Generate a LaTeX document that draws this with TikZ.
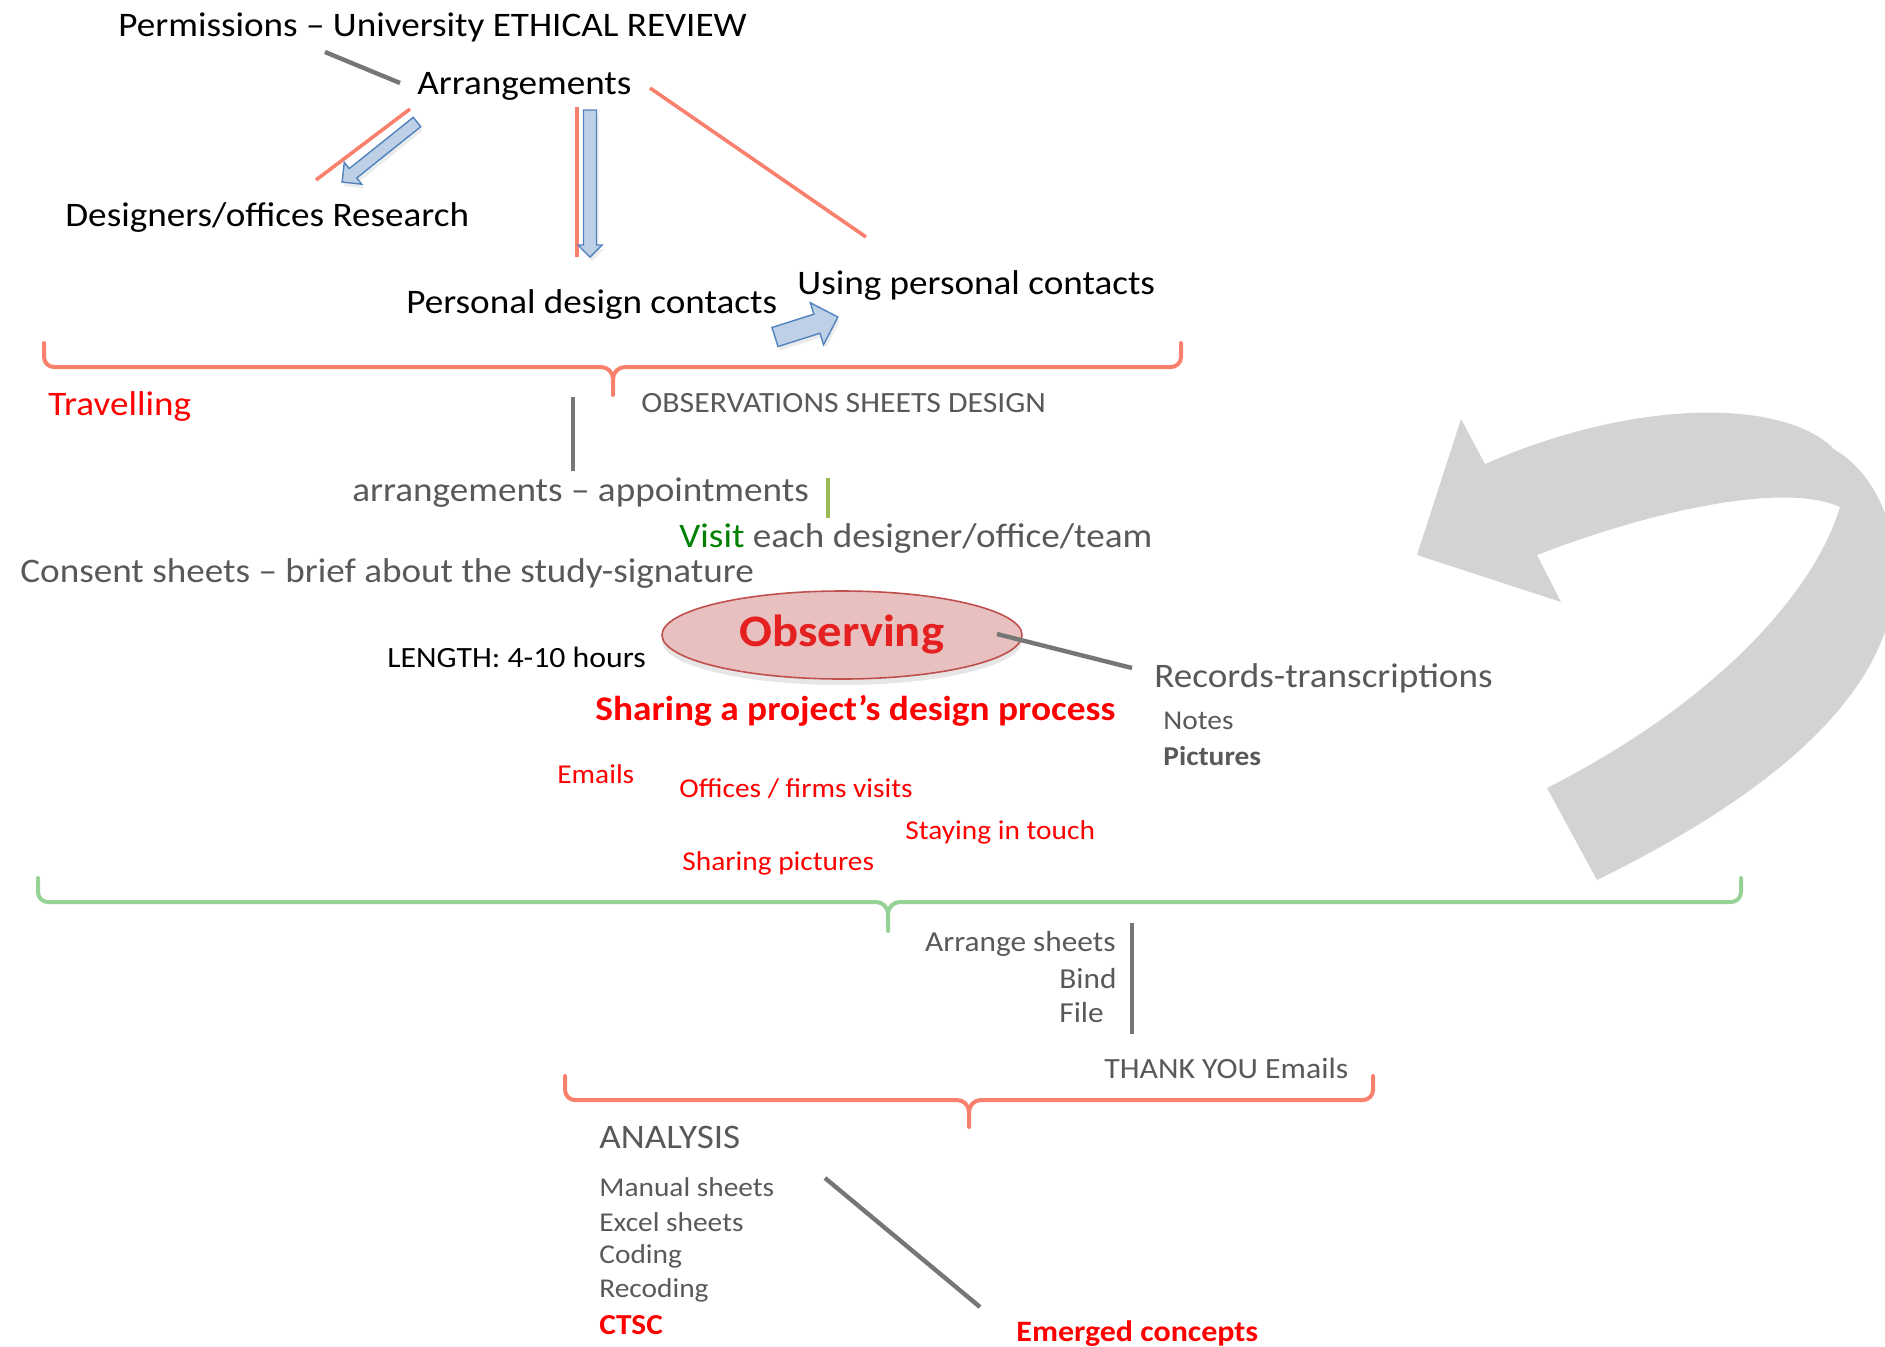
\documentclass[tikz,border=0pt]{standalone}
\usepackage{fontspec}
\setmainfont{Carlito}[FakeStretch=1.08]
\usetikzlibrary{shapes.geometric,shadows}
\definecolor{salmon}{RGB}{250,128,110}
\definecolor{txtgray}{RGB}{89,89,89}
\definecolor{linegray}{RGB}{118,118,118}
\definecolor{hotred}{RGB}{255,0,0}
\definecolor{obsred}{RGB}{228,32,32}
\definecolor{leafgreen}{RGB}{0,128,0}
\definecolor{lightgreen}{RGB}{155,187,89}
\definecolor{bracegreen}{RGB}{150,210,150}
\definecolor{arrowfill}{RGB}{190,208,230}
\definecolor{arrowedge}{RGB}{80,130,190}
\definecolor{pinkfill}{RGB}{232,192,191}
\definecolor{pinkedge}{RGB}{192,80,77}
\definecolor{ribbon}{RGB}{211,211,211}

\tikzset{
    txt/.style =    {inner sep=0pt,
                    anchor=west,
                    yshift=-1.4pt,
                    text=black,
                    font=\fontsize{17.2}{20}\selectfont},
    grey/.style =   {text=txtgray},
    hot/.style =    {text=hotred},
    small/.style =  {font=\fontsize{13.6}{16}\selectfont},
    bubble/.style = {ellipse,
                    draw=pinkedge,
                    fill=pinkfill,
                    line width=0.8pt,
                    text=obsred,
                    inner sep=0pt,
                    minimum width=180pt,
                    minimum height=44pt,
                    font=\fontsize{22.5}{26}\selectfont\bfseries,
                    drop shadow={opacity=0.2,shadow xshift=0pt,shadow yshift=-3pt}},
    tie/.style =    {draw=linegray, line width=2.2pt},
    redtie/.style = {draw=salmon, line width=1.8pt},
    greentie/.style = {draw=lightgreen, line width=2pt},
    bluearrow/.style = {fill=arrowfill, draw=arrowedge, line width=0.7pt,
                    drop shadow={opacity=0.15,shadow xshift=1pt,shadow yshift=-2pt}},
    redbrace/.style = {color=salmon, line width=2pt, line cap=round},
    greenbrace/.style = {color=bracegreen, line width=2pt, line cap=round},
    pics/blockarr/.style n args={3}{code={
        \draw[bluearrow] (0,-#2) -- ({#1-#3},-#2) -- ({#1-#3},-#3) -- (#1,0)
            -- ({#1-#3},#3) -- ({#1-#3},#2) -- (0,#2) -- cycle;}},
    pics/bracket/.style n args={3}{code={
        \draw (0,0) -- (0,14) to[out=-90,in=180] (10,24) -- ({#2-12},24)
            to[out=0,in=90] (#2,36) -- (#2,#3);
        \draw (#2,36) to[out=90,in=180] ({#2+12},24) -- ({#1-10},24)
            to[out=0,in=-90] (#1,14) -- (#1,0);}}
}

\begin{document}
\begin{tikzpicture}[x=0.5pt,y=-0.5pt]
    \useasboundingbox (0,0) rectangle (1885,1346);

    % turning arrow at the right
    \begin{scope}
        \clip (0,0) rectangle (1885,1346);
        \fill[ribbon] (1597,880) .. controls (1760,800) and (1890,700) .. (1895,580)
            .. controls (1898,520) and (1870,470) .. (1835,450)
            .. controls (1785,398) and (1635,398) .. (1485,464)
            -- (1461,419) -- (1417,555) -- (1561,602) -- (1537,555)
            .. controls (1640,515) and (1780,480) .. (1840,507)
            .. controls (1815,590) and (1720,700) .. (1547,788) -- cycle;
    \end{scope}

    % preparation
    \node[txt]          (perm)     at (118,25)   {Permissions – University ETHICAL REVIEW};
    \node[txt]          (arr)      at (417,84)   {Arrangements};
    \node[txt]          (desres)   at (65,215)   {Designers/offices Research};
    \node[txt]          (pdc)      at (406,302)  {Personal design contacts};
    \node[txt]          (upc)      at (797,283)  {Using personal contacts};

    \coordinate (perm-a) at (325,52);   \coordinate (perm-b) at (400,83);
    \coordinate (left-a) at (410,109);  \coordinate (left-b) at (316,180);
    \coordinate (down-a) at (577,107);  \coordinate (down-b) at (577,257);
    \coordinate (right-a) at (650,88);  \coordinate (right-b) at (866,237);
    \draw[tie]    (perm-a) -- (perm-b);
    \draw[redtie] (left-a) -- (left-b);
    \draw[redtie] (down-a) -- (down-b);
    \draw[redtie] (right-a) -- (right-b);
    \pic[rotate=218.7] at (417,122) {blockarr={96}{6}{14}};
    \pic[rotate=270]   at (590,110) {blockarr={147}{6.5}{12}};
    \pic[rotate=17.6]  at (775,337) {blockarr={66}{10}{22}};

    \pic[redbrace] at (44,343) {bracket={1137}{569}{52}};

    % fieldwork
    \node[txt,hot]      (trav)     at (48,404)   {Travelling};
    \node[txt,grey,font=\fontsize{14.7}{17}\selectfont]
                        (osd)      at (641,400)  {OBSERVATIONS SHEETS DESIGN};
    \node[txt,grey]     (appt)     at (352,490)  {arrangements – appointments};
    \node[txt,grey]     (visit)    at (679,536)  {\textcolor{leafgreen}{Visit} each designer/office/team};
    \node[txt,grey]     (consent)  at (20,571)   {Consent sheets – brief about the study-signature};
    \node[txt,font=\fontsize{14.7}{17}\selectfont]
                        (length)   at (387,655)  {LENGTH: 4-10 hours};
    \node[bubble]       (obs)      at (842,635)  {Observing};
    \node[txt,hot,font=\fontsize{17.3}{20}\selectfont\bfseries]
                        (share)    at (595,708)  {Sharing a project’s design process};
    \node[txt,grey]     (rec)      at (1154,676) {Records-transcriptions};
    \node[txt,grey,small] (notes)  at (1163,718) {Notes};
    \node[txt,grey,small] (pics)   at (1163,753) {\textbf{Pictures}};
    \node[txt,hot,small] (emails)  at (557,771)  {Emails};
    \node[txt,hot,small] (visits)  at (679,786)  {Offices / firms visits};
    \node[txt,hot,small] (touch)   at (905,830)  {Staying in touch};
    \node[txt,hot,small] (sharepics) at (682,861) {Sharing pictures};

    \coordinate (appt-a) at (573,397);  \coordinate (appt-b) at (573,471);
    \coordinate (visit-a) at (828,478); \coordinate (visit-b) at (828,518);
    \coordinate (obs-a) at (997,634);   \coordinate (obs-b) at (1132,668);
    \draw[tie]      (appt-a) -- (appt-b);
    \draw[greentie] (visit-a) -- (visit-b);
    \draw[tie]      (obs-a) -- (obs-b);

    \pic[greenbrace] at (38,878) {bracket={1703}{850}{53}};

    % after the visits
    \node[txt,grey,font=\fontsize{14.5}{17}\selectfont,anchor=east]
                        (arrsheets) at (1116,941) {Arrange sheets};
    \node[txt,grey,font=\fontsize{14.5}{17}\selectfont] (bind) at (1059,976)  {Bind};
    \node[txt,grey,font=\fontsize{14.5}{17}\selectfont] (file) at (1059,1010) {File};
    \node[txt,grey,font=\fontsize{14.7}{17}\selectfont] (thanks) at (1104,1066) {THANK YOU Emails};
    \coordinate (file-a) at (1132,923); \coordinate (file-b) at (1132,1034);
    \draw[tie] (file-a) -- (file-b);

    \pic[redbrace] at (565,1076) {bracket={808}{404}{51}};

    % analysis
    \node[txt,grey]       (analysis) at (599,1135) {ANALYSIS};
    \node[txt,grey,small] (manual)   at (599,1184) {Manual sheets};
    \node[txt,grey,small] (excel)    at (599,1219) {Excel sheets};
    \node[txt,grey,small] (coding)   at (599,1254) {Coding};
    \node[txt,grey,small] (recoding) at (599,1288) {Recoding};
    \node[txt,hot,font=\fontsize{14.5}{17}\selectfont\bfseries] (ctsc) at (599,1322) {CTSC};
    \node[txt,hot,font=\fontsize{14.8}{17}\selectfont\bfseries] (emerged) at (1016,1331) {Emerged concepts};
    \coordinate (ana-a) at (825,1178); \coordinate (ana-b) at (980,1307);
    \draw[tie] (ana-a) -- (ana-b);
\end{tikzpicture}
\end{document}
